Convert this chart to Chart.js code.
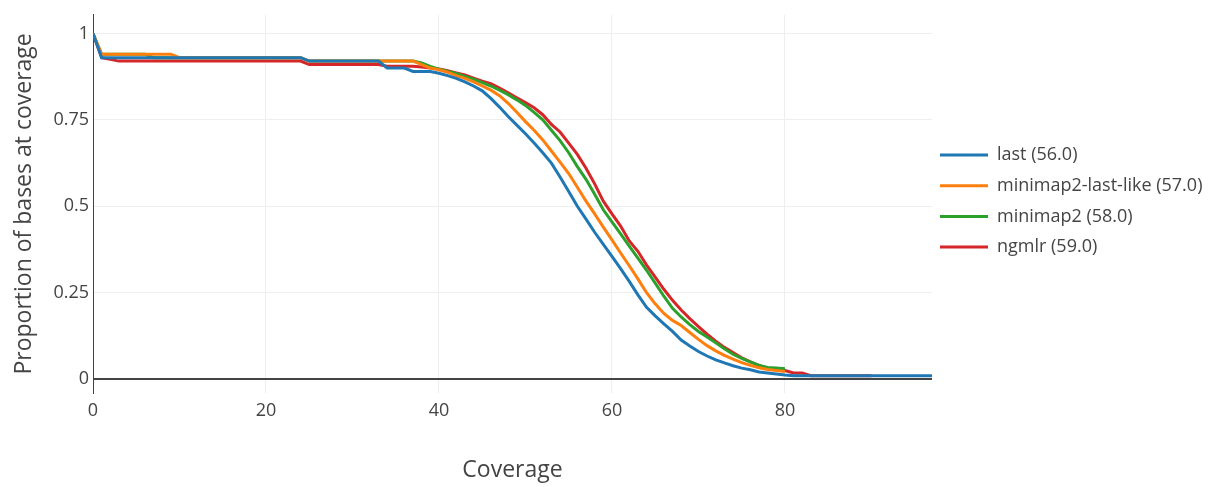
<!DOCTYPE html>
<html>
<head>
<meta charset="utf-8">
<script src="https://cdn.jsdelivr.net/npm/chart.js@4/dist/chart.umd.min.js"></script>
<style>
  html, body { margin: 0; padding: 0; background: #fff; }
  #wrap { width: 1225px; height: 487px; }
</style>
</head>
<body>
<div id="wrap"><canvas id="myChart" width="1225" height="487"></canvas></div>
<script>
// Coverage levels (x) and proportion of bases at each coverage, per aligner
const coverage = [
    0, 1, 2, 3, 4, 5, 6, 7, 8, 9, 10, 11, 12, 13, 14, 15, 16, 17, 18, 19,
    20, 21, 22, 23, 24, 25, 26, 27, 28, 29, 30, 31, 32, 33, 34, 35, 36, 37, 38, 39,
    40, 41, 42, 43, 44, 45, 46, 47, 48, 49, 50, 51, 52, 53, 54, 55, 56, 57, 58, 59,
    60, 61, 62, 63, 64, 65, 66, 67, 68, 69, 70, 71, 72, 73, 74, 75, 76, 77, 78, 79,
    80, 81, 82, 83, 84, 85, 86, 87, 88, 89, 90, 91, 92, 93, 94, 95, 96, 97
];

const lastValues = [
    1, 0.93, 0.93, 0.93, 0.93, 0.93, 0.93, 0.93, 0.93, 0.93, 0.93, 0.93, 0.93, 0.93, 0.93, 0.93, 0.93, 0.93, 0.93, 0.93,
    0.93, 0.93, 0.93, 0.93, 0.93, 0.92, 0.92, 0.92, 0.92, 0.92, 0.92, 0.92, 0.92, 0.92, 0.90, 0.90, 0.90, 0.89, 0.89, 0.89,
    0.885, 0.878, 0.87, 0.86, 0.848, 0.834, 0.812, 0.787, 0.76, 0.735, 0.71, 0.683, 0.655, 0.625, 0.585, 0.543, 0.50, 0.463, 0.425, 0.39,
    0.355, 0.32, 0.283, 0.244, 0.208, 0.183, 0.16, 0.138, 0.113, 0.096, 0.08, 0.067, 0.056, 0.047, 0.039, 0.032, 0.027, 0.021, 0.018, 0.015,
    0.012, 0.01, 0.01, 0.01, 0.01, 0.01, 0.01, 0.01, 0.01, 0.01, 0.01, 0.01, 0.01, 0.01, 0.01, 0.01, 0.01, 0.01
];

const lastLikeValues = [
    1, 0.94, 0.94, 0.94, 0.94, 0.94, 0.94, 0.94, 0.94, 0.94, 0.93, 0.93, 0.93, 0.93, 0.93, 0.93, 0.93, 0.93, 0.93, 0.93,
    0.93, 0.93, 0.93, 0.93, 0.93, 0.92, 0.92, 0.92, 0.92, 0.92, 0.92, 0.92, 0.92, 0.92, 0.92, 0.92, 0.92, 0.92, 0.91, 0.90,
    0.895, 0.888, 0.878, 0.87, 0.86, 0.848, 0.836, 0.82, 0.798, 0.772, 0.745, 0.72, 0.692, 0.66, 0.628, 0.595, 0.555, 0.515, 0.478, 0.44,
    0.403, 0.365, 0.328, 0.29, 0.25, 0.218, 0.19, 0.17, 0.155, 0.135, 0.115, 0.097, 0.082, 0.069, 0.058, 0.048, 0.04, 0.033, 0.028, 0.025,
    0.022
];

const minimap2Values = [
    1, 0.94, 0.94, 0.94, 0.94, 0.94, 0.94, 0.93, 0.93, 0.93, 0.93, 0.93, 0.93, 0.93, 0.93, 0.93, 0.93, 0.93, 0.93, 0.93,
    0.93, 0.93, 0.93, 0.93, 0.93, 0.92, 0.92, 0.92, 0.92, 0.92, 0.92, 0.92, 0.92, 0.92, 0.92, 0.92, 0.92, 0.92, 0.915, 0.905,
    0.897, 0.89, 0.884, 0.876, 0.868, 0.858, 0.848, 0.836, 0.823, 0.808, 0.792, 0.772, 0.75, 0.72, 0.69, 0.655, 0.615, 0.578, 0.535, 0.49,
    0.455, 0.42, 0.385, 0.35, 0.315, 0.278, 0.24, 0.205, 0.18, 0.158, 0.138, 0.122, 0.105, 0.088, 0.072, 0.06, 0.05, 0.04, 0.034, 0.032,
    0.03
];

const ngmlrValues = [
    1, 0.93, 0.925, 0.92, 0.92, 0.92, 0.92, 0.92, 0.92, 0.92, 0.92, 0.92, 0.92, 0.92, 0.92, 0.92, 0.92, 0.92, 0.92, 0.92,
    0.92, 0.92, 0.92, 0.92, 0.92, 0.91, 0.91, 0.91, 0.91, 0.91, 0.91, 0.91, 0.91, 0.91, 0.905, 0.905, 0.905, 0.905, 0.903, 0.90,
    0.897, 0.892, 0.886, 0.88, 0.871, 0.862, 0.855, 0.842, 0.828, 0.814, 0.80, 0.785, 0.765, 0.737, 0.715, 0.683, 0.65, 0.61, 0.565, 0.515,
    0.478, 0.443, 0.40, 0.37, 0.33, 0.295, 0.26, 0.228, 0.20, 0.175, 0.152, 0.13, 0.11, 0.092, 0.077, 0.062, 0.05, 0.04, 0.032, 0.028,
    0.025, 0.018, 0.018, 0.01, 0.01, 0.01, 0.01, 0.01, 0.01, 0.01, 0.01
];

const seriesNames = ['last (56.0)', 'minimap2-last-like (57.0)', 'minimap2 (58.0)', 'ngmlr (59.0)'];
const seriesColors = ['#1f77b4', '#ff7f0e', '#2ca02c', '#d62728'];
const seriesValues = [lastValues, lastLikeValues, minimap2Values, ngmlrValues];

const xTicks = [0, 20, 40, 60, 80];
const yTicks = [0, 0.25, 0.5, 0.75, 1];

const FONT = '"Open Sans", "Noto Sans", sans-serif';
const TEXT = '#444';

// plotly-like legend on the right side
const sideLegend = {
    id: 'sideLegend',
    afterDraw(chart) {
        const ctx = chart.ctx;
        ctx.save();
        ctx.font = '18px ' + FONT;
        ctx.textBaseline = 'middle';
        ctx.textAlign = 'left';
        seriesNames.forEach((name, i) => {
            const y = 155 + i * 30.7;
            ctx.strokeStyle = seriesColors[i];
            ctx.lineWidth = 3;
            ctx.beginPath();
            ctx.moveTo(940, y);
            ctx.lineTo(988, y);
            ctx.stroke();
            ctx.fillStyle = TEXT;
            ctx.fillText(name, 997, y);
        });
        ctx.restore();
    }
};

const ctx = document.getElementById('myChart').getContext('2d');

const data = {
    labels: coverage,
    datasets: seriesNames.map((name, i) => ({
        label: name,
        data: seriesValues[i],
        borderColor: seriesColors[i],
        backgroundColor: seriesColors[i],
        borderWidth: 3,
        pointRadius: 0,
        tension: 0,
        fill: false,
    })),
};

const options = {
    responsive: false,
    animation: false,
    layout: {
        padding: { top: 8, right: 293, left: 0, bottom: 0 },
    },
    plugins: {
        legend: { display: false },
        tooltip: { enabled: false },
    },
    scales: {
        x: {
            type: 'linear',
            min: 0,
            max: 97,
            afterBuildTicks: scale => { scale.ticks = xTicks.map(v => ({ value: v })); },
            afterFit: scale => { scale.height = 94; },
            grid: { color: '#eee', lineWidth: 1, drawTicks: false },
            border: { display: false },
            ticks: {
                color: TEXT,
                font: { family: FONT, size: 18 },
                padding: 7,
                maxRotation: 0,
            },
            title: {
                display: true,
                text: 'Coverage',
                color: TEXT,
                font: { family: FONT, size: 23 },
                padding: { bottom: 3 },
            },
        },
        y: {
            min: -0.04,
            max: 1.054,
            afterBuildTicks: scale => { scale.ticks = yTicks.map(v => ({ value: v })); },
            afterFit: scale => { scale.width = 93; },
            grid: {
                color: c => c.tick && c.tick.value === 0 ? '#444' : '#eee',
                lineWidth: c => c.tick && c.tick.value === 0 ? 2 : 1,
                drawTicks: false,
            },
            border: { display: true, color: '#444', width: 1 },
            ticks: {
                color: TEXT,
                font: { family: FONT, size: 18 },
                padding: 4,
                callback: v => String(v),
            },
            title: {
                display: true,
                text: 'Proportion of bases at coverage',
                color: TEXT,
                font: { family: FONT, size: 23 },
                padding: { top: 11 },
            },
        },
    },
};

const myChart = new Chart(ctx, {
    type: 'line',
    data: data,
    options: options,
    plugins: [sideLegend],
});
</script>
</body>
</html>
